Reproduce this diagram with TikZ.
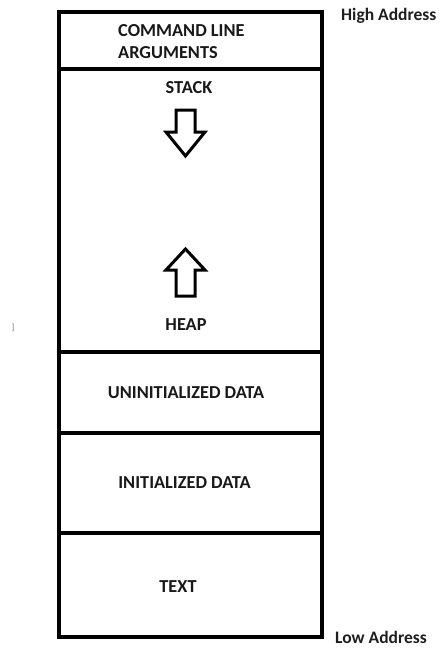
\documentclass[tikz,border=0pt]{standalone}
\usepackage{fontspec}
\setmainfont{Carlito}
\begin{document}
\begin{tikzpicture}[x=1pt,y=-1pt,
  seg/.style={draw=black, line width=3.6pt, rectangle, inner sep=0pt,
    minimum width=263pt, anchor=north west},
  lbl/.style={inner sep=0pt, text=black!90, font=\bfseries\fontsize{18.3}{22}\selectfont},
  side/.style={inner sep=0pt, text=black!88, anchor=base west,
    font=\bfseries\fontsize{17.5}{22}\selectfont},
  growth/.style={draw=black, line width=3pt, fill=white, line join=miter}]
\useasboundingbox (0,0) rectangle (440,648);
\fill[white] (0,0) rectangle (440,648);

% memory segments, from the top of the address space down
\node[seg, minimum height=57pt]  (args)  at (57,10)  {};
\node[seg, minimum height=283pt] (dyn)   at (57,67)  {};
\node[seg, minimum height=81pt]  (bss)   at (57,350) {};
\node[seg, minimum height=100pt] (data)  at (57,431) {};
\node[seg, minimum height=104pt] (text)  at (57,531) {};

% segment names
\node[lbl, anchor=west, align=left] (argsl) at (118,42) {COMMAND LINE\\ARGUMENTS};
\node[lbl] (stackl) at (189,88)  {STACK};
\node[lbl] (heapl)  at (186,325) {HEAP};
\node[lbl] (bssl)   at (186,393) {UNINITIALIZED DATA};
\node[lbl] (datal)  at (184.5,483) {INITIALIZED DATA};
\node[lbl] (textl)  at (178,587) {TEXT};

% growth directions: stack grows down, heap grows up
\draw[growth] (176,110) -- (195,110) -- (195,132) -- (205,132) -- (185.5,156)
  -- (166,132) -- (176,132) -- cycle;
\draw[growth] (185.5,249) -- (205,270) -- (195,270) -- (195,296) -- (176,296)
  -- (176,270) -- (166,270) -- cycle;

% address ends
\node[side] (high) at (341,20.5)  {High Address};
\node[side] (low)  at (335,643.5) {Low Address};

\node[inner sep=0pt, text=black!55, font=\fontsize{9}{9}\selectfont] (mark) at (13,328) {]};
\end{tikzpicture}
\end{document}
